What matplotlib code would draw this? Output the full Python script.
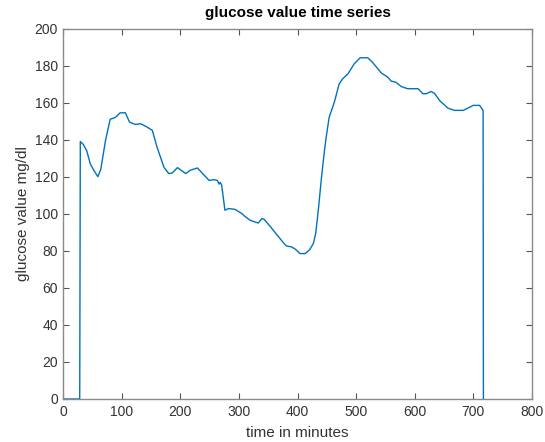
import matplotlib
matplotlib.use('Agg')
import matplotlib.pyplot as plt

plt.rcParams['font.family'] = ['Liberation Sans', 'DejaVu Sans']

# Sensor trace, minutes since start vs. glucose in mg/dl
minutes = [0, 28, 29, 34, 40, 46, 52, 59, 64, 72, 80, 89, 97, 106, 113,
           123, 132, 143, 152, 160, 172, 180, 186, 195, 209, 217, 229,
           249, 257, 263, 266, 268, 270.5, 276, 282, 293, 305, 310, 319,
           327, 333, 339, 343, 353, 364, 376, 381, 390, 397, 404, 413,
           421, 427, 431, 435.5, 441, 446, 449, 454, 463, 471, 477, 486,
           497, 507, 520, 528, 543, 554, 560, 568, 577, 588, 606, 614,
           620, 628, 634, 643, 657, 668, 683, 691, 700, 711, 717, 717.5]
glucose = [0, 0, 139, 137.5, 134, 127, 123.5, 120, 124, 139.5, 151, 152,
           154.5, 154.5, 149.5, 148.2, 148.6, 146.8, 145, 136, 125, 121.7,
           122, 124.9, 121.7, 123.5, 124.7, 118, 118.4, 118, 116, 117,
           115.4, 101.9, 102.8, 102.4, 100.1, 98.6, 96.5, 95.6, 95, 97.4,
           97, 93.3, 89, 84.3, 82.6, 82.1, 80.7, 78.5, 78.5, 80.7, 83.9,
           89.3, 101.9, 119.8, 134, 141.4, 152, 160.3, 170, 172.8, 175.5,
           181, 184.2, 184.2, 181.8, 176, 173.8, 171.6, 171, 168.7, 167.5,
           167.5, 164.8, 164.8, 166, 165, 161, 157, 155.8, 155.8, 157,
           158.5, 158.5, 155.8, 0]

x_ticks = [0, 100, 200, 300, 400, 500, 600, 700, 800]
y_ticks = [0, 20, 40, 60, 80, 100, 120, 140, 160, 180, 200]

fig = plt.figure(figsize=(5.45, 4.42), dpi=100)
ax = fig.add_axes([0.1162, 0.0973, 0.8594, 0.8382])

ax.plot(minutes, glucose, color='#0072BD', linewidth=1.0)

ax.set_xlim(0, 800)
ax.set_ylim(0, 200)
ax.set_xticks(x_ticks)
ax.set_yticks(y_ticks)

for side in ax.spines.values():
    side.set_color('#8a8a8a')
    side.set_linewidth(1.0)
ax.tick_params(direction='in', length=4, width=0.8, color='#555555',
               labelsize=10, labelcolor='#333333', top=True, right=True,
               pad=4)

ax.set_xlabel('time in minutes', fontsize=11, color='#333333', labelpad=5.5)
ax.set_ylabel('glucose value mg/dl', fontsize=11, color='#333333', labelpad=3)
ax.set_title('glucose value time series', fontsize=11, fontweight='bold',
             color='black', pad=8)

fig.savefig('out.png', dpi=100)
